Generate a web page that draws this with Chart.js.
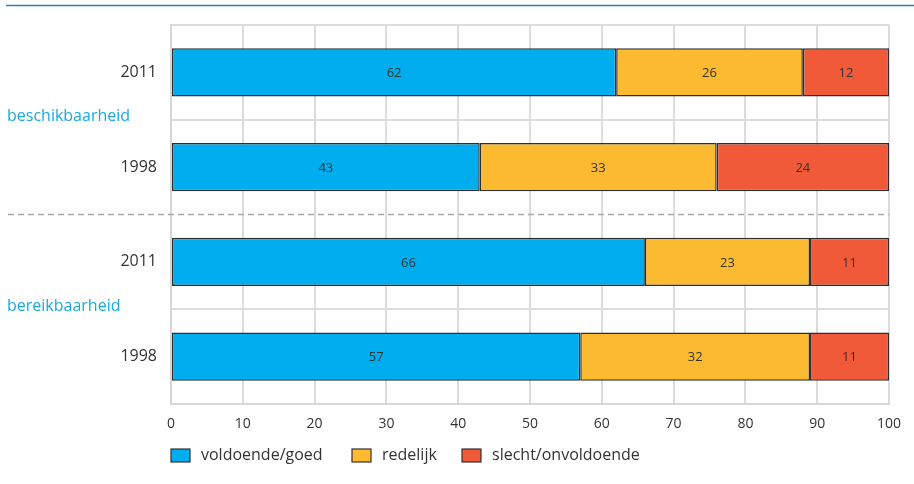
<!DOCTYPE html>
<html>
<head>
<meta charset="utf-8">
<script src="https://cdn.jsdelivr.net/npm/chart.js@4"></script>
<style>
  html, body { margin: 0; padding: 0; background: #fff; }
  #wrap { width: 914px; height: 484px; position: relative; }
</style>
</head>
<body>
<div id="wrap"><canvas id="c" width="914" height="484"></canvas></div>
<script>
// rows top to bottom
const years = ['2011', '1998', '2011', '1998'];
const groups = ['beschikbaarheid', 'bereikbaarheid'];
const seriesNames = ['voldoende/goed', 'redelijk', 'slecht/onvoldoende'];
const goed = [62, 43, 66, 57];
const redelijk = [26, 33, 23, 32];
const slecht = [12, 24, 11, 11];
const xTicks = [0, 10, 20, 30, 40, 50, 60, 70, 80, 90, 100];

const colors = ['#00aeef', '#fbba2f', '#f05a38'];
const FONT = "'Open Sans', 'Noto Sans', sans-serif";
const TXT = '#333333';

const extras = {
  id: 'extras',
  afterDraw(chart) {
    const { ctx, chartArea: a, scales } = chart;
    ctx.save();

    // blue rule at the top
    ctx.strokeStyle = '#2f7db6';
    ctx.lineWidth = 1.5;
    ctx.beginPath();
    ctx.moveTo(6, 5.5);
    ctx.lineTo(914, 5.5);
    ctx.stroke();

    // dashed separator between the two groups
    const y = scales.y;
    const mid = (y.getPixelForValue(1) + y.getPixelForValue(2)) / 2;
    ctx.strokeStyle = '#a8a8a8';
    ctx.lineWidth = 1.5;
    ctx.setLineDash([6, 4]);
    ctx.beginPath();
    ctx.moveTo(8, mid);
    ctx.lineTo(a.right, mid);
    ctx.stroke();
    ctx.setLineDash([]);

    // group labels
    ctx.fillStyle = '#17a9e1';
    ctx.font = '16px ' + FONT;
    ctx.textAlign = 'left';
    ctx.textBaseline = 'middle';
    groups.forEach((g, i) => {
      const yy = (y.getPixelForValue(i * 2) + y.getPixelForValue(i * 2 + 1)) / 2;
      ctx.fillText(g, 7, yy - 3);
    });

    // value labels in the segments
    ctx.fillStyle = TXT;
    ctx.font = '13px ' + FONT;
    ctx.textAlign = 'center';
    chart.data.datasets.forEach((ds, di) => {
      const meta = chart.getDatasetMeta(di);
      meta.data.forEach((bar, i) => {
        const cx = (bar.x + bar.base) / 2;
        ctx.fillText(String(ds.data[i]), cx, bar.y + 1);
      });
    });

    // legend
    const lx = [171, 352, 462];
    ctx.font = '16px ' + FONT;
    ctx.textAlign = 'left';
    seriesNames.forEach((n, i) => {
      ctx.fillStyle = colors[i];
      ctx.fillRect(lx[i], 449, 19, 13);
      ctx.strokeStyle = '#333';
      ctx.lineWidth = 1.2;
      ctx.strokeRect(lx[i], 449, 19, 13);
      ctx.fillStyle = TXT;
      ctx.fillText(n, lx[i] + 30, 455.5);
    });
    ctx.restore();
  }
};

const mkSet = (label, data, i) => ({
  label,
  data,
  backgroundColor: colors[i],
  borderColor: '#2e2e2e',
  borderWidth: 1.5,
  borderSkipped: false,
  barPercentage: 0.51,
  categoryPercentage: 1
});

new Chart(document.getElementById('c'), {
  type: 'bar',
  data: {
    labels: years,
    datasets: [
      mkSet(seriesNames[0], goed, 0),
      mkSet(seriesNames[1], redelijk, 1),
      mkSet(seriesNames[2], slecht, 2)
    ]
  },
  options: {
    indexAxis: 'y',
    responsive: false,
    animation: false,
    layout: { padding: { top: 25, right: 25, bottom: 0, left: 0 } },
    plugins: { legend: { display: false }, tooltip: { enabled: false } },
    scales: {
      x: {
        stacked: true,
        min: 0,
        max: 100,
        afterBuildTicks: (s) => { s.ticks = xTicks.map((v) => ({ value: v })); },
        afterFit: (s) => { s.height = 80; },
        grid: { color: '#dcdcdc', lineWidth: 2, drawTicks: false },
        border: { color: '#d6d6d6', width: 2 },
        ticks: { color: TXT, font: { family: FONT, size: 14 }, padding: 12 }
      },
      y: {
        stacked: true,
        afterFit: (s) => { s.width = 171; },
        grid: {
          offset: true,
          drawTicks: false,
          lineWidth: 2,
          color: (c) => (c.index === 2 ? 'rgba(0,0,0,0)' : '#dcdcdc')
        },
        border: { color: '#d6d6d6', width: 2 },
        ticks: { color: TXT, font: { family: FONT, size: 16 }, padding: 14 }
      }
    }
  },
  plugins: [extras]
});
</script>
</body>
</html>
